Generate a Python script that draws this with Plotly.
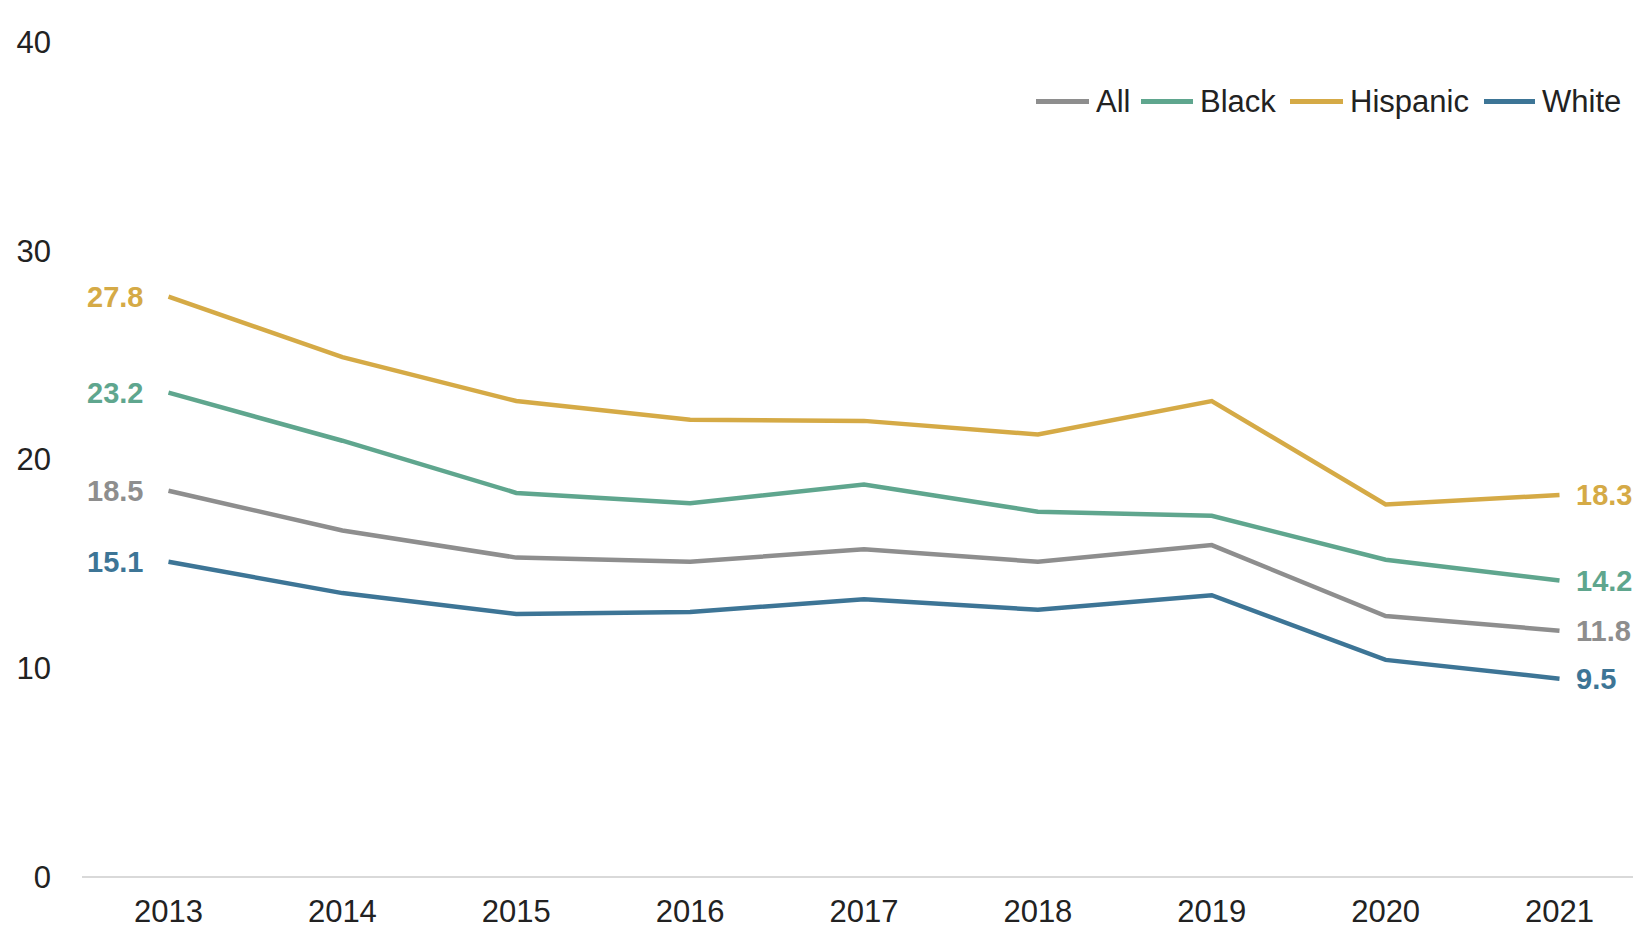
import plotly.graph_objects as go

years = ["2013", "2014", "2015", "2016", "2017", "2018", "2019", "2020", "2021"]
all_vals = [18.5, 16.6, 15.3, 15.1, 15.7, 15.1, 15.9, 12.5, 11.8]
black_vals = [23.2, 20.9, 18.4, 17.9, 18.8, 17.5, 17.3, 15.2, 14.2]
hispanic_vals = [27.8, 24.9, 22.8, 21.9, 21.85, 21.2, 22.8, 17.85, 18.3]
white_vals = [15.1, 13.6, 12.6, 12.7, 13.3, 12.8, 13.5, 10.4, 9.5]
y_ticks = [0, 10, 20, 30, 40]

series = [
    ("All", all_vals, "#8e8e8e"),
    ("Black", black_vals, "#5fa68e"),
    ("Hispanic", hispanic_vals, "#d5aa46"),
    ("White", white_vals, "#3d7596"),
]

FONT = "Liberation Sans, Arial, sans-serif"
# figure sized so that, with the 8px page body margin, it fits the visible window
W, H = 1625, 921
ML, MR, MT, MB = 74, 0, 34, 52
PW = W - ML - MR

xi = list(range(len(years)))
x_lo = -(160.5 - ML) / 173.875
x_hi = (len(years) - 1) + (W - 1551.5) / 173.875

fig = go.Figure()
for name, vals, color in series:
    fig.add_trace(go.Scatter(
        x=xi, y=vals, name=name, mode="lines",
        line=dict(color=color, width=4.5),
        showlegend=False,
    ))
    fig.add_annotation(x=xi[0], y=vals[0], text=f"<b>{vals[0]:.1f}</b>",
                       xanchor="right", yanchor="middle", xshift=-24, showarrow=False,
                       font=dict(family=FONT, size=29, color=color))
    fig.add_annotation(x=xi[-1], y=vals[-1], text=f"<b>{vals[-1]:.1f}</b>",
                       xanchor="left", yanchor="middle", xshift=14, showarrow=False,
                       font=dict(family=FONT, size=29, color=color))

# manual legend (long line swatches like the reference)
legend_px = [(1028, 1081, 1086), (1133, 1185, 1190), (1282, 1335, 1340), (1476, 1527, 1532)]
leg_y = (H - MB - 93.5) / (H - MT - MB)
for (name, vals, color), (x0, x1, xt) in zip(series, legend_px):
    fig.add_shape(type="line", xref="paper", yref="paper",
                  x0=(x0 - ML) / PW, x1=(x1 - ML) / PW, y0=leg_y, y1=leg_y,
                  line=dict(color=color, width=5))
    fig.add_annotation(xref="paper", yref="paper", x=(xt - ML) / PW, y=leg_y,
                       text=name, xanchor="left", yanchor="middle", showarrow=False,
                       font=dict(family=FONT, size=31, color="#222222"))

fig.update_layout(
    width=W, height=H,
    margin=dict(l=ML, r=MR, t=MT, b=MB, autoexpand=False),
    plot_bgcolor="white", paper_bgcolor="white",
    font=dict(family=FONT, size=31, color="#222222"),
    showlegend=False,
    xaxis=dict(range=[x_lo, x_hi], tickvals=xi, ticktext=years, showgrid=False,
               zeroline=False, showline=False, ticks="", ticklabelstandoff=13,
               automargin=False),
    yaxis=dict(range=[0, 40], tickvals=y_ticks, showgrid=False, zeroline=True,
               zerolinecolor="#d9d9d9", zerolinewidth=2, showline=False, ticks="",
               ticklabelstandoff=30, automargin=False),
)

fig.write_html("out.html")
